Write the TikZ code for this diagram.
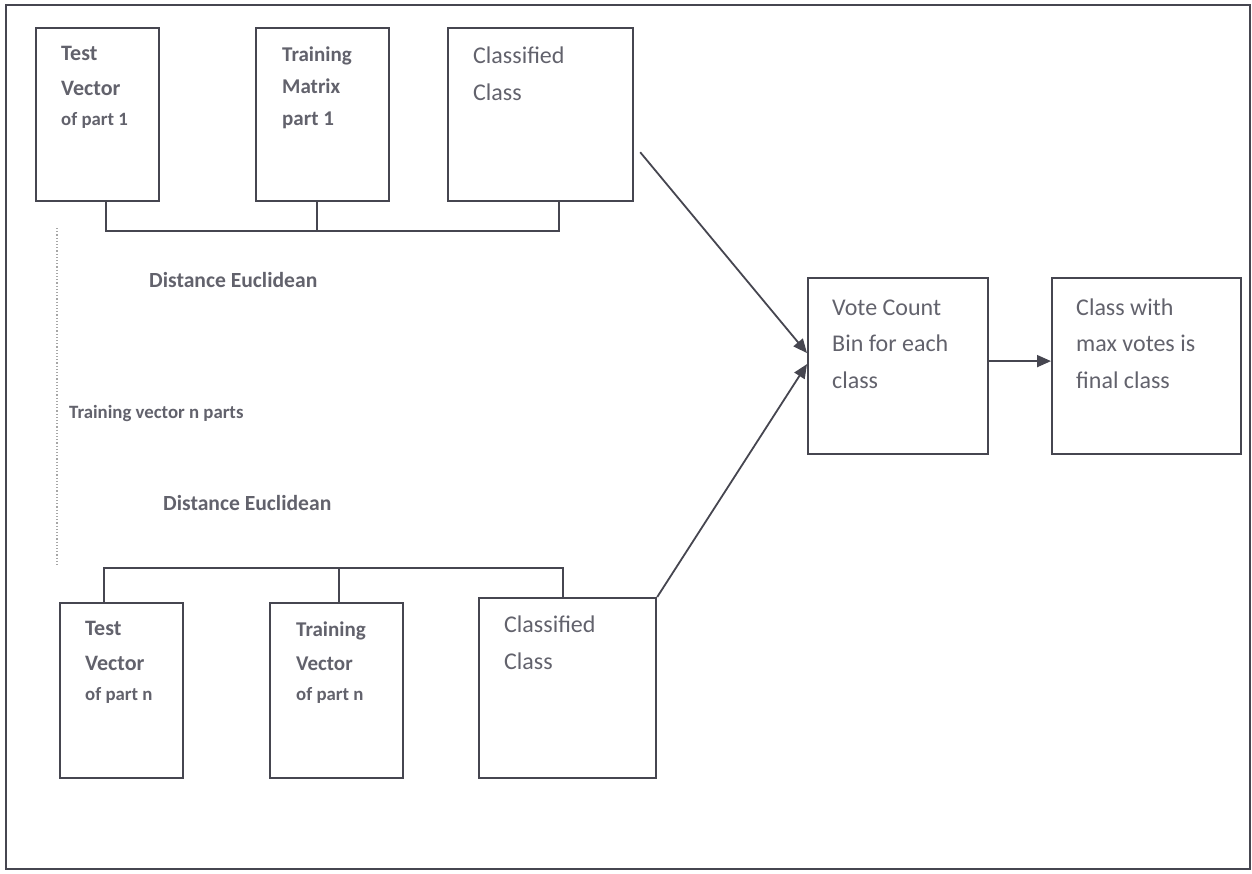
\documentclass[tikz,border=0pt]{standalone}
\usepackage{fontspec}
\setmainfont{Carlito}
\usetikzlibrary{positioning, arrows.meta, calc}
\definecolor{inkgray}{RGB}{70,70,80}
\definecolor{txtgray}{RGB}{98,98,108}
\newcommand\bigtxt{\fontsize{22}{35}\selectfont\bfseries}
\newcommand\smalltxt{\fontsize{18.8}{30}\selectfont\bfseries}
\newcommand\plaintxt{\fontsize{24}{36.5}\selectfont}
\tikzset{
    x=1pt, y=-1pt,
    box/.style={ % empty frame, text goes in a separate node
        draw=inkgray,
        line width=2.2pt,
        anchor=north west,
        inner sep=0pt
    },
    txt/.style={anchor=base west, align=left, inner sep=0pt, text=txtgray, font=\bigtxt}, % base = last line
    wire/.style={draw=inkgray, line width=2.2pt},
    vote/.style={draw=inkgray, line width=1.8pt, ->, >={Triangle[length=14pt,width=12pt]}},
}

\begin{document}
\begin{tikzpicture}
    \useasboundingbox (0,0) rectangle (1252,873);
    \draw[inkgray, line width=1.8pt] (6,5) rectangle (1250,869);

    % part 1
    \node[box, minimum width=123pt, minimum height=173pt] (tv1) at (35,27)  {};
    \node[box, minimum width=133pt, minimum height=173pt] (tm1) at (255,27) {};
    \node[box, minimum width=185pt, minimum height=173pt] (cc1) at (447,27) {};
    \node[txt] (tv1t) at ($(tv1.north west)+(26,98)$) {Test\\Vector\\[-5pt]{\smalltxt of part 1}};
    \node[txt, font=\fontsize{21}{32}\selectfont\bfseries] (tm1t) at ($(tm1.north west)+(27,98)$) {Training\\Matrix\\part 1};
    \node[txt, font=\plaintxt] (cc1t) at ($(cc1.north west)+(26,73)$) {Classified\\Class};

    \coordinate (bus1a) at (106,231);
    \coordinate (bus1b) at (317,231);
    \coordinate (bus1c) at (559,231);
    \draw[wire] (tv1.south -| bus1a) -- (bus1a) -- (bus1c) -- (cc1.south -| bus1c);
    \draw[wire] (tm1.south -| bus1b) -- (bus1b);

    \draw[gray!70, dotted, line width=1.2pt] (57,228) -- (57,567);
    \node[txt, font=\fontsize{21.6}{25}\selectfont\bfseries] (dist1) at (149,287) {Distance Euclidean};
    \node[txt, font=\smalltxt] (nparts) at (69,418) {Training vector n parts};
    \node[txt, font=\fontsize{21.6}{25}\selectfont\bfseries] (distn) at (163,510) {Distance Euclidean};

    % part n
    \node[box, minimum width=123pt, minimum height=175pt] (tvn) at (59,602)  {};
    \node[box, minimum width=133pt, minimum height=175pt] (trn) at (269,602) {};
    \node[box, minimum width=177pt, minimum height=180pt] (ccn) at (478,597) {};
    \node[txt] (tvnt) at ($(tvn.north west)+(26,98)$) {Test\\Vector\\[-5pt]{\smalltxt of part n}};
    \node[txt, font=\fontsize{21}{34}\selectfont\bfseries] (trnt) at ($(trn.north west)+(27,98)$) {Training\\Vector\\[-4pt]{\smalltxt of part n}};
    \node[txt, font=\plaintxt] (ccnt) at ($(ccn.north west)+(26,72)$) {Classified\\Class};

    \coordinate (busna) at (104,568);
    \coordinate (busnb) at (339,568);
    \coordinate (busnc) at (563,568);
    \draw[wire] (tvn.north -| busna) -- (busna) -- (busnc) -- (ccn.north -| busnc);
    \draw[wire] (trn.north -| busnb) -- (busnb);

    % voting
    \node[box, minimum width=180pt, minimum height=176pt] (vc) at (807,277)  {};
    \node[box, minimum width=189pt, minimum height=176pt] (fc) at (1051,277) {};
    \node[txt, font=\plaintxt] (vct) at ($(vc.north west)+(25,111)$) {Vote Count\\Bin for each\\class};
    \node[txt, font=\plaintxt] (fct) at ($(fc.north west)+(25,111)$) {Class with\\max votes is\\final class};

    \coordinate (from1) at ($(cc1.south east)+(6,-50)$);
    \draw[vote] (from1) -- ($(vc.west)+(0,-13)$);
    \draw[vote] (ccn.north east) -- ($(vc.west)+(0,-2)$);
    \draw[vote] ($(vc.east)+(0,-5)$) -- ($(fc.west)+(0,-5)$);
\end{tikzpicture}
\end{document}
